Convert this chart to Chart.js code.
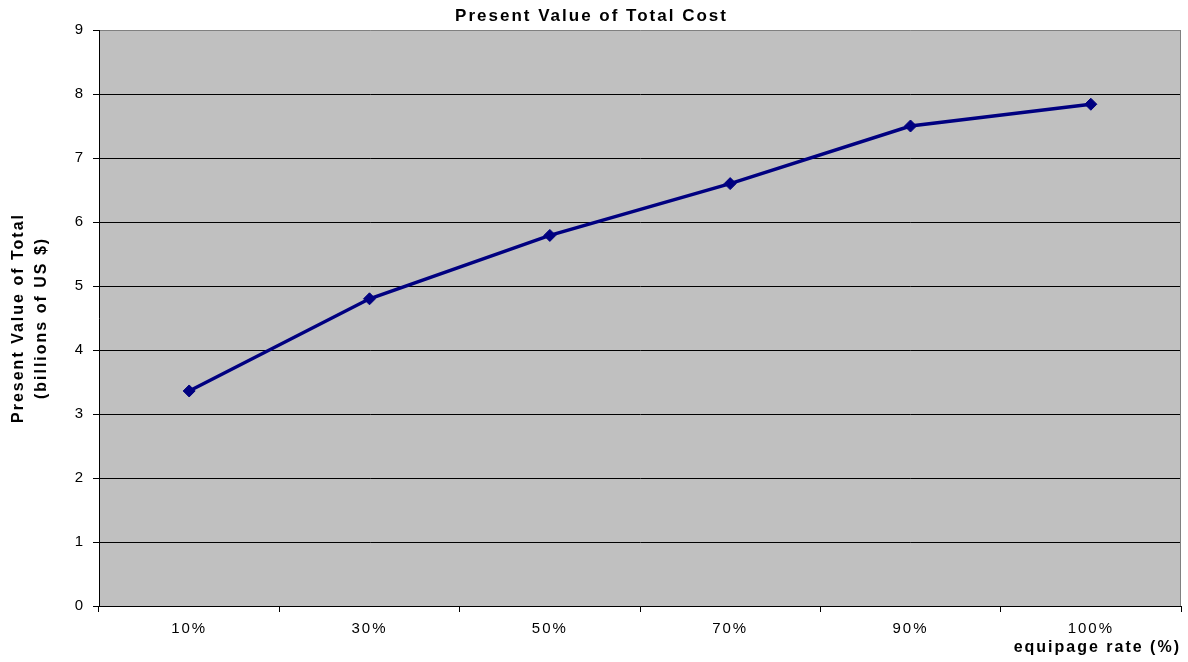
<!DOCTYPE html>
<html>
<head>
<meta charset="utf-8">
<title>Present Value of Total Cost</title>
<script src="https://cdn.jsdelivr.net/npm/chart.js@4.4.1/dist/chart.umd.min.js"></script>
<style>
  html, body { margin: 0; padding: 0; background: #ffffff; }
  #wrap { width: 1188px; height: 662px; }
</style>
</head>
<body>
<div id="wrap"><canvas id="chart" width="1188" height="662"></canvas></div>
<script>
// Equipage rate categories and present value of total cost (billions of US $)
const categories = ['10%', '30%', '50%', '70%', '90%', '100%'];
const totalCost = [3.36, 4.80, 5.79, 6.60, 7.50, 7.84];
const yTicks = [0, 1, 2, 3, 4, 5, 6, 7, 8, 9];

const FONT = "'Liberation Sans', Arial, sans-serif";

// Wide letter spacing for all text, plus the grey plot background and border
const plotStyle = {
  id: 'plotStyle',
  beforeUpdate(chart) { chart.ctx.letterSpacing = '2px'; },
  beforeLayout(chart) { chart.ctx.letterSpacing = '2px'; },
  beforeDraw(chart) {
    const { ctx, chartArea: a } = chart;
    ctx.letterSpacing = '2px';
    ctx.save();
    ctx.fillStyle = '#c0c0c0';
    ctx.fillRect(a.left, a.top, a.right - a.left, a.bottom - a.top);
    ctx.restore();
  },
  beforeDatasetsDraw(chart) {
    const { ctx, chartArea: a } = chart;
    ctx.save();
    ctx.strokeStyle = '#808080';
    ctx.lineWidth = 1;
    ctx.beginPath();
    ctx.moveTo(Math.round(a.right) - 0.5, a.top);
    ctx.lineTo(Math.round(a.right) - 0.5, a.bottom);
    ctx.stroke();
    ctx.restore();
  }
};

new Chart(document.getElementById('chart'), {
  type: 'line',
  data: {
    labels: categories,
    datasets: [{
      label: 'Present Value of Total Cost',
      data: totalCost,
      borderColor: '#000080',
      backgroundColor: '#000080',
      borderWidth: 3.5,
      pointStyle: 'rectRot',
      pointRadius: 6,
      pointBorderWidth: 1,
      pointBackgroundColor: '#000080',
      pointBorderColor: '#000080',
      tension: 0,
      fill: false
    }]
  },
  options: {
    responsive: false,
    animation: false,
    devicePixelRatio: 1,
    layout: { padding: { left: 0, right: 5, top: 0, bottom: 0 } },
    plugins: {
      legend: { display: false },
      tooltip: { enabled: false },
      title: {
        display: true,
        text: 'Present Value of Total Cost',
        color: '#000000',
        font: { family: FONT, size: 17, weight: 'bold', lineHeight: 1.2 },
        padding: { top: 6, bottom: 3.6 }
      }
    },
    scales: {
      x: {
        type: 'category',
        offset: true,
        grid: {
          offset: true,
          drawOnChartArea: false,
          drawTicks: true,
          tickLength: 6,
          color: '#000000',
          tickColor: '#000000'
        },
        border: { display: true, color: '#000000', width: 1 },
        ticks: {
          color: '#000000',
          font: { family: FONT, size: 15 },
          padding: 8,
          maxRotation: 0,
          autoSkip: false
        },
        title: {
          display: true,
          text: 'equipage rate (%)',
          align: 'end',
          color: '#000000',
          font: { family: FONT, size: 16, weight: 'bold', lineHeight: 1.2 },
          padding: { top: 0, bottom: 5 }
        },
        afterFit(scale) { scale.height = 56; }
      },
      y: {
        min: 0,
        max: 9,
        afterBuildTicks(scale) { scale.ticks = yTicks.map(v => ({ value: v })); },
        grid: {
          drawOnChartArea: true,
          drawTicks: true,
          tickLength: 6,
          color: (c) => (c.tick && c.tick.value === 9 ? '#808080' : '#000000'),
          tickColor: '#000000',
          lineWidth: 1
        },
        border: { display: true, color: '#000000', width: 1 },
        ticks: {
          color: '#000000',
          font: { family: FONT, size: 15 },
          padding: 8,
          stepSize: 1
        },
        title: {
          display: true,
          text: ['Present Value of Total', '(billions of US $)'],
          color: '#000000',
          font: { family: FONT, size: 16, weight: 'bold', lineHeight: 1.45 },
          padding: { top: 7, bottom: 0 }
        },
        afterFit(scale) { scale.width = 99; }
      }
    }
  },
  plugins: [plotStyle]
});
</script>
</body>
</html>
